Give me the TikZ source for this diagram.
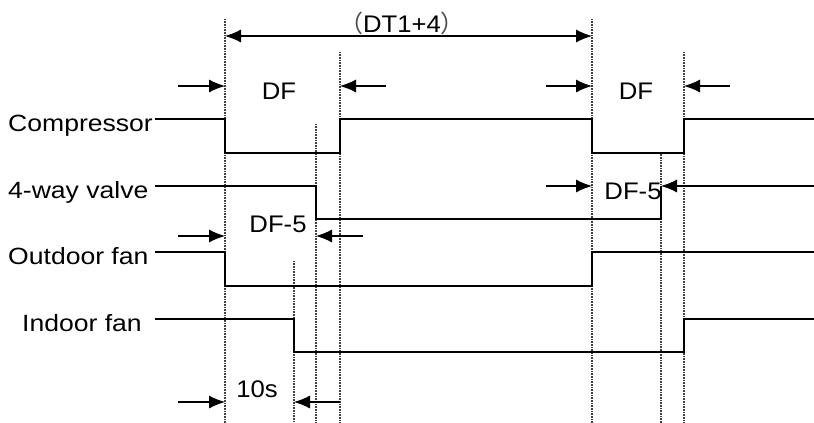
\documentclass[tikz,border=0pt]{standalone}
\usepackage{fontspec}
\setmainfont{Liberation Sans}[FakeStretch=1.07]
\newfontfamily\labfont{Liberation Sans}[FakeStretch=1.13]
\newfontfamily\cjk{Noto Sans CJK SC}
\usetikzlibrary{arrows.meta}
\tikzset{
  sig/.style={line width=1.6pt, line join=miter},
  guide/.style={line width=1.2pt, dash pattern=on 0.8pt off 0.8pt, black!75},
  dimr/.style={line width=1.1pt, -{Latex[length=16pt,width=13pt]}},
  dimb/.style={line width=1.1pt, {Latex[length=16pt,width=13pt]}-{Latex[length=16pt,width=13pt]}},
  lbl/.style={font=\labfont\fontsize{23.5}{27}\selectfont, anchor=base west, inner sep=0pt},
  txt/.style={font=\fontsize{24}{28}\selectfont, anchor=base, inner sep=0pt}
}
\begin{document}
\begin{tikzpicture}[x=1pt,y=-1pt]
\useasboundingbox (0,0) rectangle (814,423);
% guide line ends
\coordinate (gAt) at (225,19);  \coordinate (gAb) at (225,423);
\coordinate (gBt) at (340,52);  \coordinate (gBb) at (340,423);
\coordinate (gCt) at (316,124); \coordinate (gCb) at (316,423);
\coordinate (gDt) at (294,261); \coordinate (gDb) at (294,423);
\coordinate (gEt) at (592,19);  \coordinate (gEb) at (592,423);
\coordinate (gFt) at (684,52);  \coordinate (gFb) at (684,423);
\coordinate (gGt) at (661,152); \coordinate (gGb) at (661,423);
\foreach \g in {A,B,C,D,E,F,G}{\draw[guide] (g\g t) -- (g\g b);}

% labels
\node[lbl] (comp) at (8,131) {Compressor};
\node[lbl] (valve) at (8,198) {4-way valve};
\node[lbl] (ofan) at (8,264) {Outdoor fan};
\node[lbl] (ifan) at (22,331) {Indoor fan};

% signals
\coordinate (cS) at (155,119); \coordinate (cE) at (814,119);
\draw[sig] (cS) -| (225,153) -| (340,119) -| (592,153) -| (684,119) -- (cE);
\coordinate (vS) at (155,186); \coordinate (vE) at (661,186);
\draw[sig] (vS) -| (316,219) -| (vE);
\coordinate (oS) at (155,252); \coordinate (oE) at (814,252);
\draw[sig] (oS) -| (225,286) -| (592,252) -- (oE);
\coordinate (iS) at (155,319); \coordinate (iE) at (814,319);
\draw[sig] (iS) -| (294,352) -| (684,319) -- (iE);

% DT1+4
\coordinate (dtL) at (225,36); \coordinate (dtR) at (592,36);
\draw[dimb] (dtL) -- (dtR);
\node[txt] (dt) at (402,32) {{\cjk\color{black!70}（}DT1+4{\cjk\color{black!70}）}};

% DF left
\coordinate (a1) at (178,86); \coordinate (a1e) at (225,86);
\coordinate (a2) at (386,86); \coordinate (a2e) at (340,86);
\draw[dimr] (a1) -- (a1e); \draw[dimr] (a2) -- (a2e);
\node[txt] (df1) at (279,99) {DF};
% DF right
\coordinate (b1) at (546,86); \coordinate (b1e) at (592,86);
\coordinate (b2) at (730,86); \coordinate (b2e) at (684,86);
\draw[dimr] (b1) -- (b1e); \draw[dimr] (b2) -- (b2e);
\node[txt] (df2) at (636,99) {DF};
% DF-5 right
\coordinate (c1) at (546,186); \coordinate (c1e) at (592,186);
\coordinate (c2) at (814,186);
\draw[dimr] (c1) -- (c1e); \draw[dimr] (c2) -- (vE);
\node[txt] (df5r) at (633,199) {DF-5};
% DF-5 left
\coordinate (d1) at (178,236); \coordinate (d1e) at (225,236);
\coordinate (d2) at (363,236); \coordinate (d2e) at (316,236);
\draw[dimr] (d1) -- (d1e); \draw[dimr] (d2) -- (d2e);
\node[txt] (df5l) at (278,232) {DF-5};
% 10s
\coordinate (e1) at (178,402); \coordinate (e1e) at (225,402);
\coordinate (e2) at (340,402); \coordinate (e2e) at (294,402);
\draw[dimr] (e1) -- (e1e); \draw[dimr] (e2) -- (e2e);
\node[txt] (ten) at (257,397) {10s};
\end{tikzpicture}
\end{document}
